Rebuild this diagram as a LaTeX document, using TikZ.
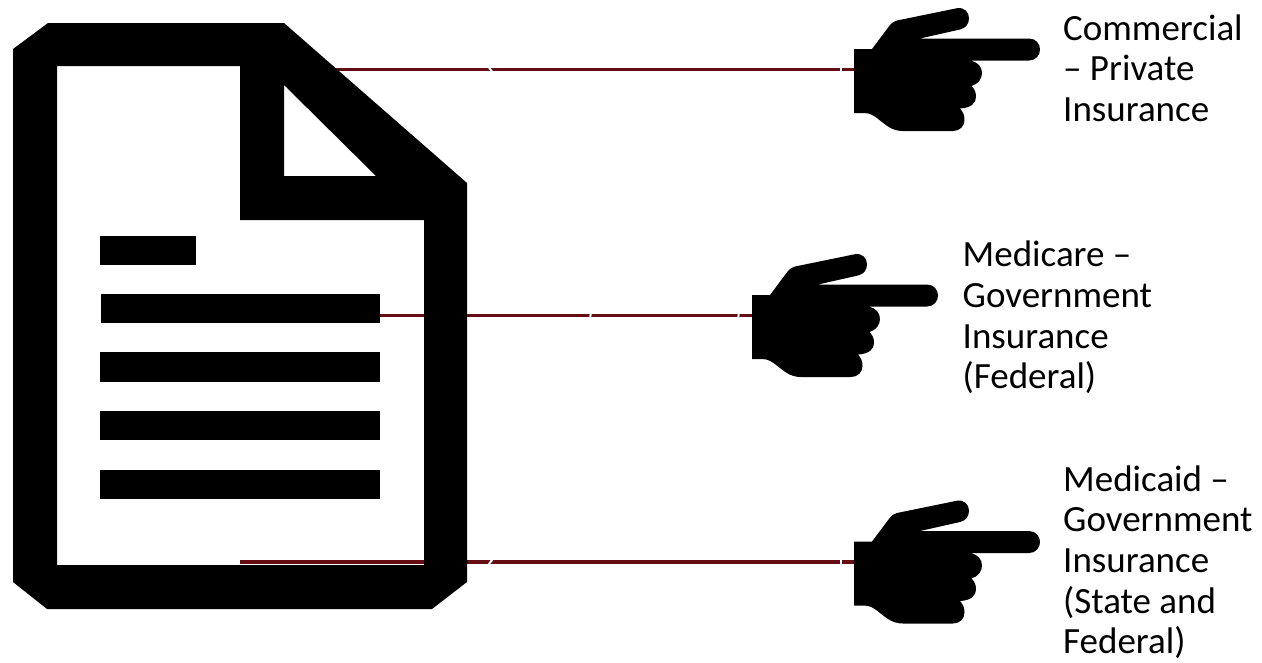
\documentclass[tikz,border=0pt]{standalone}
\usepackage{fontspec}
\setmainfont{Carlito}
\definecolor{linkred}{HTML}{650D12}
\tikzset{
  x=1pt,y=-1pt,
  link/.style={draw=linkred,line width=3.2pt},
  nick/.style={draw=white,line width=2pt},
  lbl/.style={anchor=north west,inner sep=0pt,align=left,font=\fontsize{37}{40.6}\selectfont},
  handmark/.pic={
    \fill[black] (854,49) -- (872,49) -- (890,25)
      .. controls (892,22.5) and (894,21.5) .. (897,20.5)
      -- (957,8.2)
      .. controls (964,7) and (969,12) .. (969,18)
      .. controls (969,24) and (966,28) .. (960,29.5)
      -- (920,38.5) -- (1029,38.5)
      .. controls (1036,38.5) and (1040,44) .. (1040,49.5)
      .. controls (1040,55) and (1036,60.5) .. (1029,60.5)
      -- (970,60.5)
      .. controls (978,62) and (982,67) .. (982,73)
      .. controls (982,79) and (978,84) .. (971.5,86)
      .. controls (974.5,89) and (976,92) .. (976,97)
      .. controls (976,103) and (971,108) .. (960,108.5)
      .. controls (963,112) and (964.5,115) .. (964.5,120)
      .. controls (964.5,126) and (960,131) .. (953,131)
      -- (903,131)
      .. controls (892,131) and (886,125) .. (880,120.5)
      .. controls (874,115.5) and (870,113) .. (864,113)
      -- (854,113) -- cycle;
  }
}
\begin{document}
\begin{tikzpicture}
\useasboundingbox (0,0) rectangle (1262,662);
\coordinate (doctop) at (240,69.5);
\coordinate (docmid) at (380,315.5);
\coordinate (docbot) at (240,562);
\coordinate (handtop) at (854,69.5);
\coordinate (handmid) at (752,315.5);
\coordinate (handbot) at (854,562);
\draw[link] (doctop) -- (handtop);
\draw[link] (docmid) -- (handmid);
\draw[link] (docbot) -- (handbot);
\draw[nick] (488,66) -- (493,73);
\draw[nick] (591,312) -- (590,319);
\draw[nick] (739,312) -- (738,319);
\draw[nick] (841,66) -- (841,73);
\draw[nick] (493,558.5) -- (488,565.5);
\draw[nick] (841,558.5) -- (841,565.5);
\fill[black,even odd rule]
  (13,49) -- (48,23) -- (284,23) -- (467,183) -- (467,582) -- (432,609) -- (47,609) -- (13,582) -- cycle
  (57,66) -- (240,66) -- (240,220) -- (424,220) -- (424,565) -- (57,565) -- cycle
  (284,85) -- (376,176) -- (284,176) -- cycle;
\fill[black] (100,236) rectangle (196,265);
\fill[black] (101,294) rectangle (380,323);
\fill[black] (100,352) rectangle (380,382);
\fill[black] (100,411) rectangle (380,440);
\fill[black] (100,470) rectangle (380,499);
\pic (hand1) at (0,0) {handmark};
\pic (hand2) at (-102,246) {handmark};
\pic (hand3) at (0,492.5) {handmark};
\node[lbl] (t1) at (1063,14.5) {Commercial\\– Private\\Insurance};
\node[lbl] (t2) at (962.5,241) {Medicare –\\Government\\Insurance\\(Federal)};
\node[lbl] (t3) at (1063,465.5) {Medicaid –\\Government\\Insurance\\(State and\\Federal)};
\end{tikzpicture}
\end{document}
